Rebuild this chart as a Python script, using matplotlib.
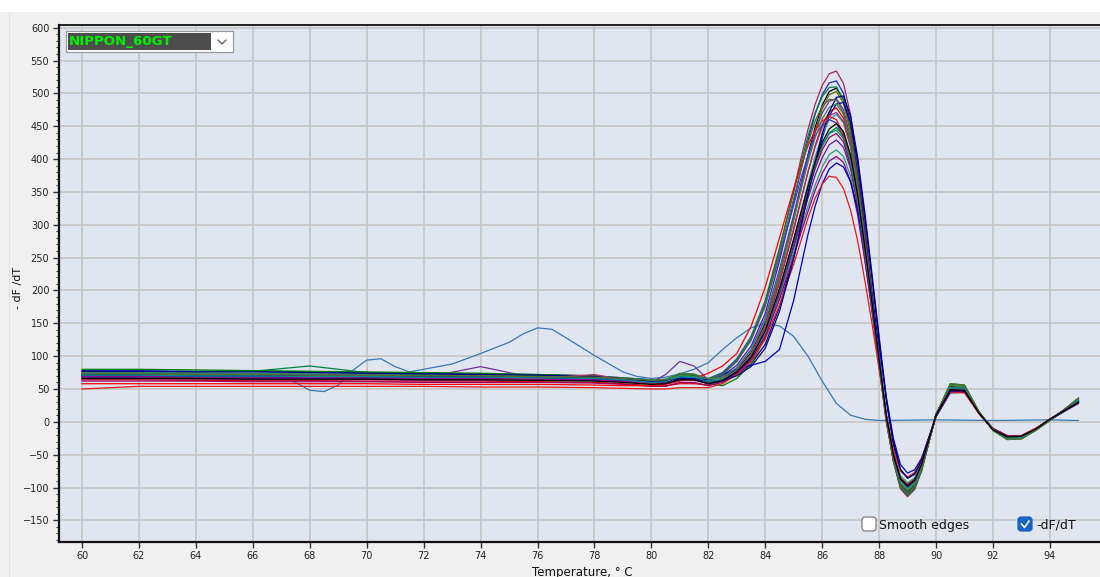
'''
Melt curve plot (-dF/dT against temperature) for one plate run.
'''

import numpy as np
import matplotlib
matplotlib.use('Agg')
import matplotlib.pyplot as plt
from matplotlib.patches import Rectangle, FancyBboxPatch
from matplotlib.lines import Line2D
from matplotlib.ticker import MultipleLocator

run_name = 'NIPPON_60GT'

temps = [60, 62, 64, 66, 68, 70, 72, 74, 76, 78, 79, 80,
         80.5, 81, 81.5, 82, 82.5, 83, 83.5, 84, 84.5, 85,
         85.25, 85.5, 85.75, 86, 86.25, 86.5, 86.75, 87, 87.25, 87.5, 87.75, 88, 88.25, 88.5, 88.75,
         89, 89.25, 89.5,
         90, 90.5, 91, 91.5, 92, 92.5, 93, 93.5, 94, 94.5, 95]

well_A1 = [74,74,73,73,72,72,71,70,69,68,66,63, 62,68,68,63,72,92,125,180,262,352, 400,445,483,512,530,534,515,467,390,297,200,100,8,-60,-102, -114,-103,-74, 12,56,54,15,-13,-26,-25,-13,3,19,36]
well_A2 = [78,78,77,77,76,75,74,73,72,70,67,64, 64,70,70,64,70,86,115,165,245,335, 383,428,468,498,516,519,500,455,380,290,196,98,8,-58,-99, -111,-100,-72, 11,54,52,14,-13,-25,-24,-12,3,18,34]
well_A3 = [70,70,70,69,69,68,68,67,67,66,64,61, 62,67,66,61,66,80,105,150,225,312, 360,406,448,482,503,508,490,444,370,282,190,95,7,-57,-97, -109,-98,-70, 12,53,51,15,-12,-24,-23,-11,4,18,32]
well_A4 = [76,76,76,77,85,75,72,71,70,69,67,64, 65,72,71,66,75,96,130,185,265,350, 393,435,470,495,509,510,490,442,366,278,186,92,4,-60,-100, -112,-101,-73, 10,57,55,16,-13,-26,-25,-13,2,18,35]
well_A5 = [68,68,67,67,66,66,66,65,65,64,62,59, 61,70,69,62,66,78,102,146,220,306, 354,400,442,476,498,503,485,440,367,280,189,95,7,-56,-95, -107,-97,-69, 12,55,53,15,-12,-24,-23,-12,3,17,31]
well_A6 = [66,66,65,65,65,66,67,84,66,64,62,60, 72,92,85,64,68,82,110,158,232,315, 360,403,440,470,488,492,475,432,360,275,186,93,6,-56,-94, -105,-95,-68, 11,52,50,14,-12,-23,-22,-11,4,18,32]
well_A7 = [72,72,71,71,70,70,69,69,68,67,65,62, 62,66,66,62,64,72,88,118,175,252, 298,345,392,432,466,484,486,455,395,310,218,124,32,-35,-74, -85,-78,-55, 8,45,46,14,-11,-22,-22,-12,3,16,29]
well_A8 = [64,64,63,63,63,62,62,62,61,60,58,55, 55,58,58,56,62,76,100,142,212,292, 336,380,420,452,472,478,462,422,355,272,185,95,10,-50,-85, -95,-86,-62, 10,48,47,13,-11,-22,-21,-10,4,17,30]
well_A9 = [70,70,69,69,68,68,67,67,66,65,63,60, 61,67,67,60,62,72,92,130,196,275, 318,362,403,437,460,468,455,418,352,270,184,94,8,-52,-88, -99,-89,-64, 10,50,49,14,-11,-23,-22,-11,3,17,31]
well_A10 = [74,74,73,73,72,72,71,71,70,68,66,62, 63,70,70,64,74,94,126,178,252,330, 370,405,435,452,460,455,432,390,325,248,168,84,0,-58,-96, -107,-96,-70, 9,52,51,15,-12,-24,-23,-12,3,17,32]
well_A11 = [80,80,79,78,77,76,75,74,72,70,66,62, 63,72,70,58,55,66,88,128,192,268, 310,352,390,420,440,448,436,402,340,262,180,92,8,-55,-94, -106,-96,-70, 10,58,56,16,-13,-27,-26,-13,2,18,36]
well_A12 = [62,62,62,61,61,61,60,60,60,59,57,54, 54,60,60,55,60,72,94,132,195,268, 308,348,385,414,433,439,426,390,330,255,175,90,8,-50,-86, -96,-87,-63, 10,47,46,13,-11,-21,-21,-10,4,17,29]
well_B1 = [67,67,66,66,66,65,65,64,64,63,61,58, 59,66,65,58,61,73,95,133,194,265, 303,340,375,402,422,429,418,385,327,254,176,92,10,-50,-88, -100,-90,-66, 9,50,49,14,-12,-24,-23,-11,3,17,32]
well_B2 = [58,58,58,58,58,58,57,57,57,56,55,55, 57,62,66,74,85,104,145,205,280,355, 390,420,444,458,465,460,438,395,330,252,170,86,2,-58,-94, -104,-94,-68, 9,48,47,14,-11,-22,-22,-11,3,17,30]
well_B3 = [73,73,72,72,71,71,70,70,69,68,66,63, 64,70,69,63,65,76,96,132,190,258, 293,328,360,388,407,414,404,374,320,250,174,92,12,-46,-82, -93,-85,-62, 11,52,51,15,-12,-24,-23,-12,3,17,32]
well_B4 = [69,69,68,68,67,67,66,66,65,64,62,59, 60,64,64,59,62,74,95,130,186,252, 287,320,352,378,397,404,395,366,314,246,172,92,12,-48,-86, -98,-89,-65, 9,49,48,14,-12,-23,-22,-11,3,17,31]
well_B5 = [71,71,70,70,70,69,69,68,67,66,64,61, 62,66,66,64,72,80,86,92,110,185, 235,285,328,362,385,394,388,365,322,262,192,115,38,-25,-65, -78,-73,-55, 8,44,45,14,-10,-21,-21,-11,3,16,28]
well_B6 = [50,54,54,54,54,54,54,53,53,52,51,50, 50,52,52,52,58,72,92,126,178,240, 275,310,340,362,374,372,355,322,275,215,150,80,10,-42,-75, -84,-77,-57, 9,45,44,13,-10,-21,-21,-10,4,16,28]
well_B7 = [75,75,74,74,73,73,72,71,70,69,67,63, 64,74,73,65,68,82,108,154,226,308, 352,395,432,461,479,484,468,426,356,272,184,93,7,-55,-93, -104,-94,-68, 11,56,54,15,-13,-26,-25,-12,3,18,34]
well_B8 = [77,77,76,76,75,74,73,72,71,69,66,62, 62,66,66,61,63,70,84,112,168,248, 296,346,395,438,472,494,496,465,402,318,225,130,38,-30,-72, -86,-80,-58, 9,47,47,14,-11,-22,-22,-12,3,16,29]
well_B9 = [65,65,65,64,64,64,63,63,66,72,64,58, 58,63,63,58,64,79,103,146,215,295, 338,380,418,448,466,471,457,418,352,270,184,95,10,-51,-88, -99,-90,-65, 10,50,49,14,-11,-23,-22,-11,4,17,31]
well_B10 = [71,71,70,70,69,69,68,68,67,66,64,60, 61,69,68,61,64,77,100,140,204,278, 318,356,392,420,439,444,431,396,336,260,178,91,8,-52,-90, -101,-92,-67, 10,52,51,15,-12,-24,-23,-12,3,17,32]
well_B11 = [73,73,72,72,71,71,70,70,69,68,66,63, 64,73,72,65,72,92,124,176,256,340, 383,424,458,480,491,490,470,424,352,268,180,90,3,-59,-98, -110,-99,-71, 10,58,56,16,-13,-27,-26,-13,2,18,36]
well_B12 = [66,66,66,65,65,65,64,64,63,62,60,57, 58,64,64,58,63,76,98,138,202,278, 318,358,395,425,446,454,442,406,344,266,182,94,10,-50,-87, -98,-89,-64, 10,49,48,14,-12,-23,-22,-11,4,17,30]

well_colors = ['#a3245e', '#2222c8', '#000000', '#008040', '#6b6b00', '#7030a0',
               '#000080', '#d00000', '#1fa0a0', '#3535e0', '#008000', '#a00060',
               '#5a1e9c', '#ff0000', '#2e9b70', '#8b008b', '#0000cd', '#e41a1c',
               '#2e8b57', '#000080', '#b0306a', '#008b8b', '#556b2f', '#000000']

# the one odd well with a broad early hump
odd_temps = [60, 62, 64, 66, 67, 67.5, 68, 68.5, 69, 69.5, 70, 70.5, 71, 71.5, 72,
             73, 74, 75, 75.5, 76, 76.5, 77, 78, 79, 79.5, 80, 80.5, 81, 81.5, 82,
             82.5, 83, 83.5, 84, 84.5, 85, 85.5, 86, 86.5, 87, 87.5, 88, 90, 92, 94, 95]
odd_well = [74, 74, 73, 72, 70, 60, 48, 46, 56, 78, 94, 96, 84, 76, 80,
            88, 104, 121, 134, 143, 141, 128, 101, 76, 69, 66, 68, 73, 80, 90,
            110, 128, 143, 150, 146, 130, 100, 62, 28, 10, 4, 2, 3, 2, 3, 2]


def px(x, y):
    '''
    Convert pixel position (from top-left of the 1100x577 image) to inches
    from bottom-left, for use with fig.dpi_scale_trans.
    '''
    return x / 100.0, (577 - y) / 100.0


def makeMeltFigure(filename):
    '''
    Draw the melt curve window and save it to filename.
    '''
    wells = [well_A1, well_A2, well_A3, well_A4, well_A5, well_A6,
             well_A7, well_A8, well_A9, well_A10, well_A11, well_A12,
             well_B1, well_B2, well_B3, well_B4, well_B5, well_B6,
             well_B7, well_B8, well_B9, well_B10, well_B11, well_B12]

    fig = plt.figure(figsize=(11, 5.77), dpi=100, facecolor='#f0f0f0')
    ax = fig.add_axes([59/1100., (577-541.5)/577., 1 - 59/1100., (541.5-24.5)/577.])
    ax.set_facecolor('#dfe6f0')

    ax.plot(odd_temps, odd_well, color='#3a78b5', lw=0.9)
    for w, c in zip(wells, well_colors):
        ax.plot(temps, w, color=c, lw=0.9)

    ax.set_xlim(59.19, 95.76)
    ax.set_ylim(-182.2, 604.9)
    ax.set_xticks(np.arange(60, 95, 2))
    ax.set_yticks(np.arange(-150, 601, 50))
    ax.yaxis.set_minor_locator(MultipleLocator(10))
    ax.grid(True, color='#c8c8c8', lw=1.3)
    ax.set_axisbelow(True)

    for side in ['left', 'bottom', 'top']:
        ax.spines[side].set_color('#111111')
    ax.spines['left'].set_linewidth(1.6)
    ax.spines['bottom'].set_linewidth(1.6)
    ax.spines['top'].set_linewidth(1.3)
    ax.spines['right'].set_visible(False)
    ax.tick_params(axis='both', which='major', length=4, width=1, color='#333333',
                   labelsize=7, labelcolor='#222222', pad=3)
    ax.tick_params(axis='y', which='minor', length=2, width=0.8, color='#333333')

    # white strip along the top of the window
    fig.add_artist(Rectangle((0, 1 - 12/577.), 1, 12/577., transform=fig.transFigure,
                             facecolor='white', edgecolor='none', zorder=5))
    fig.add_artist(Line2D([8.5/1100., 8.5/1100.], [0, 1 - 12/577.], transform=fig.transFigure,
                          color='#e2e2e2', lw=0.8, zorder=5))

    # run selector box
    tr = fig.dpi_scale_trans
    fig.add_artist(Rectangle(px(66, 52), 1.67, 0.21, transform=tr, facecolor='white',
                             edgecolor='#9a9a9a', lw=0.9, zorder=6))
    fig.add_artist(Rectangle(px(68, 50), 1.43, 0.17, transform=tr, facecolor='#4d4d4d',
                             edgecolor='none', zorder=6))
    fig.text(69/1100., 1 - 41.5/577., run_name, color='#00f000', fontsize=9.6,
             fontweight='bold', va='center', ha='left', zorder=7)
    chev = list(zip(px(218, 40), px(222, 44), px(226, 40)))
    fig.add_artist(Line2D(chev[0], chev[1], transform=tr, color='#555555', lw=0.9, zorder=7))

    # check boxes
    fig.add_artist(FancyBboxPatch(px(862, 531), 0.14, 0.14, boxstyle='round,pad=0,rounding_size=0.03',
                                  transform=tr, facecolor='white', edgecolor='#7a7a7a', lw=0.9, zorder=6))
    fig.text(879/1100., 1 - 525/577., 'Smooth edges', fontsize=9, color='#111111',
             va='center', ha='left', zorder=7)
    fig.add_artist(FancyBboxPatch(px(1018, 531), 0.14, 0.14, boxstyle='round,pad=0,rounding_size=0.03',
                                  transform=tr, facecolor='#1766c6', edgecolor='#1766c6', lw=0.9, zorder=6))
    tick = list(zip(px(1021.5, 524), px(1024.5, 527.5), px(1029, 521)))
    fig.add_artist(Line2D(tick[0], tick[1], transform=tr, color='white', lw=1.1, zorder=7))
    fig.text(1036/1100., 1 - 525/577., '-dF/dT', fontsize=9, color='#111111',
             va='center', ha='left', zorder=7)

    # axis titles
    fig.text(18/1100., 1 - 288/577., '- dF /dT', rotation=90, fontsize=8,
             va='center', ha='center', color='#111111')
    fig.text(582/1100., 1 - 566/577., 'Temperature, \u00b0 C', fontsize=8.5,
             va='top', ha='center', color='#111111')

    fig.savefig(filename, dpi=100, facecolor=fig.get_facecolor())


if __name__ == '__main__':
    makeMeltFigure('out.png')
